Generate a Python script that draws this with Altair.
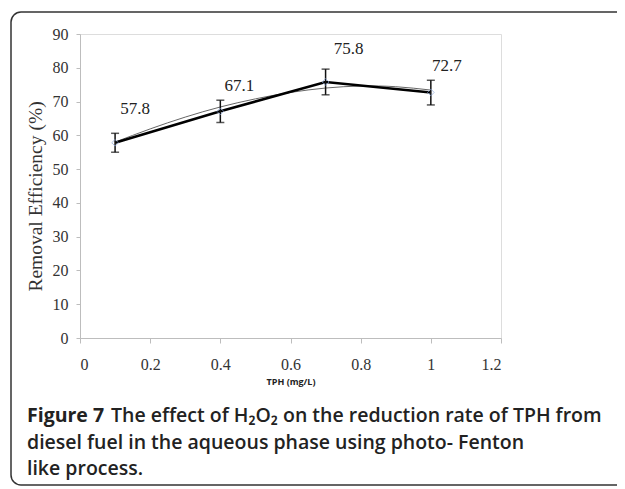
import altair as alt
import pandas as pd

# ---- data ----
tph = [0.1, 0.4, 0.7, 1.0]
removal = [57.8, 67.1, 75.8, 72.7]
err_low = [55.0, 63.8, 72.0, 69.0]
err_high = [60.6, 70.4, 79.6, 76.3]
value_labels = ["57.8", "67.1", "75.8", "72.7"]

trend_x = [0.1, 0.2, 0.3, 0.4, 0.5, 0.6, 0.7, 0.8, 0.9, 1.0]
trend_y = [58.0, 61.9, 65.4, 68.4, 70.8, 72.7, 74.0, 74.6, 74.4, 73.4]

x_ticks = [0, 0.2, 0.4, 0.6, 0.8, 1.0, 1.2]
y_ticks = [0, 10, 20, 30, 40, 50, 60, 70, 80, 90]

caption_bold = "Figure 7"
caption_lines = [
    "The effect of H\u2082O\u2082 on the reduction rate of TPH from",
    "diesel fuel in the aqueous phase using photo- Fenton",
    "like process.",
]

W, H = 421, 304
TOTAL_W, TOTAL_H = 609, 479
PAD = {"left": 72, "top": 26, "right": TOTAL_W - 72 - W, "bottom": TOTAL_H - 26 - H}

df = pd.DataFrame({"tph": tph, "removal": removal, "lo": err_low, "hi": err_high,
                   "label": value_labels})
trend = pd.DataFrame({"tph": trend_x, "removal": trend_y})
one = pd.DataFrame({"a": [0]})

xscale = alt.Scale(domain=[0, 1.2], nice=False)
yscale = alt.Scale(domain=[0, 90], nice=False)

xaxis = alt.Axis(values=x_ticks, labelExpr="format(datum.value, '~g')", grid=False,
                 labelOverlap=False,
                 title="TPH (mg/L)", titleFont="Open Sans", titleFontSize=9,
                 titleFontWeight="bold", titleColor="#222", titlePadding=5,
                 labelFont="Liberation Serif", labelFontSize=16, labelColor="#333",
                 labelPadding=13, tickSize=5, domainColor="#bdbdbd", tickColor="#bdbdbd")
yaxis = alt.Axis(values=y_ticks, grid=False, title="Removal  Efficiency (%)",
                 labelOverlap=False,
                 titleFont="Liberation Serif", titleFontSize=19.5, titleFontWeight="normal",
                 titleColor="#333", titlePadding=7, titleY=162,
                 labelFont="Liberation Serif", labelFontSize=16, labelColor="#333",
                 labelPadding=8, tickSize=4, domainColor="#bdbdbd", tickColor="#bdbdbd")


def X(field):
    return alt.X(field, scale=xscale, axis=xaxis)


def Y(field):
    return alt.Y(field, scale=yscale, axis=yaxis)


base = alt.Chart(df)

trend_line = alt.Chart(trend).mark_line(color="#666", strokeWidth=1,
                                        interpolate="natural").encode(
    x=X("tph:Q"), y=Y("removal:Q"))

main_line = base.mark_line(color="#000", strokeWidth=2.6).encode(
    x=X("tph:Q"), y=Y("removal:Q"))

err_rule = base.mark_rule(color="#111", strokeWidth=1.5).encode(
    x=X("tph:Q"), y=Y("lo:Q"), y2="hi:Q")
cap_lo = base.mark_tick(color="#111", thickness=1.5, size=8, orient="horizontal").encode(
    x=X("tph:Q"), y=Y("lo:Q"))
cap_hi = base.mark_tick(color="#111", thickness=1.5, size=8, orient="horizontal").encode(
    x=X("tph:Q"), y=Y("hi:Q"))

points = base.mark_point(shape="diamond", filled=False, color="#8faadc",
                         size=45, strokeWidth=1).encode(
    x=X("tph:Q"), y=Y("removal:Q"))

offsets = [(20, -34), (19, -25), (23, -33), (16, -26)]
label_layers = []
for i, (dx, dy) in enumerate(offsets):
    label_layers.append(
        alt.Chart(df.iloc[[i]]).mark_text(font="Liberation Serif", fontSize=17,
                                          color="#222", dx=dx, dy=dy).encode(
            x=X("tph:Q"), y=Y("removal:Q"), text="label:N"))

# frame around the figure
frame = alt.Chart(one).mark_rect(fill="transparent", stroke="#333", strokeWidth=1.5,
                                 cornerRadius=10).encode(
    x=alt.value(-69), x2=alt.value(570), y=alt.value(-22), y2=alt.value(451))

cap_font = "Open Sans"
cap_size = 19.5
baselines = [388, 415, 441]
cap_layers = [
    alt.Chart(one).mark_text(text=caption_bold, font=cap_font, fontSize=cap_size,
                             fontWeight="bold", color="#222", align="left",
                             baseline="alphabetic").encode(
        x=alt.value(-53), y=alt.value(baselines[0]))
]
cap_layers.append(
    alt.Chart(one).mark_text(text=caption_lines[0], font=cap_font, fontSize=cap_size,
                             fontWeight=600, color="#222", align="left",
                             baseline="alphabetic").encode(
        x=alt.value(31), y=alt.value(baselines[0])))
for line, b in zip(caption_lines[1:], baselines[1:]):
    cap_layers.append(
        alt.Chart(one).mark_text(text=line, font=cap_font, fontSize=cap_size,
                                 fontWeight=600, color="#222", align="left",
                                 baseline="alphabetic").encode(
            x=alt.value(-53), y=alt.value(b)))

chart = alt.layer(trend_line, main_line, err_rule, cap_lo, cap_hi, points,
                  *label_layers, frame, *cap_layers).properties(
    width=W, height=H, padding=PAD,
    autosize=alt.AutoSizeParams(type="none"),
).configure_view(stroke=None).configure(background="white")

chart.save("out.html", embed_options={"renderer": "svg", "actions": False})
